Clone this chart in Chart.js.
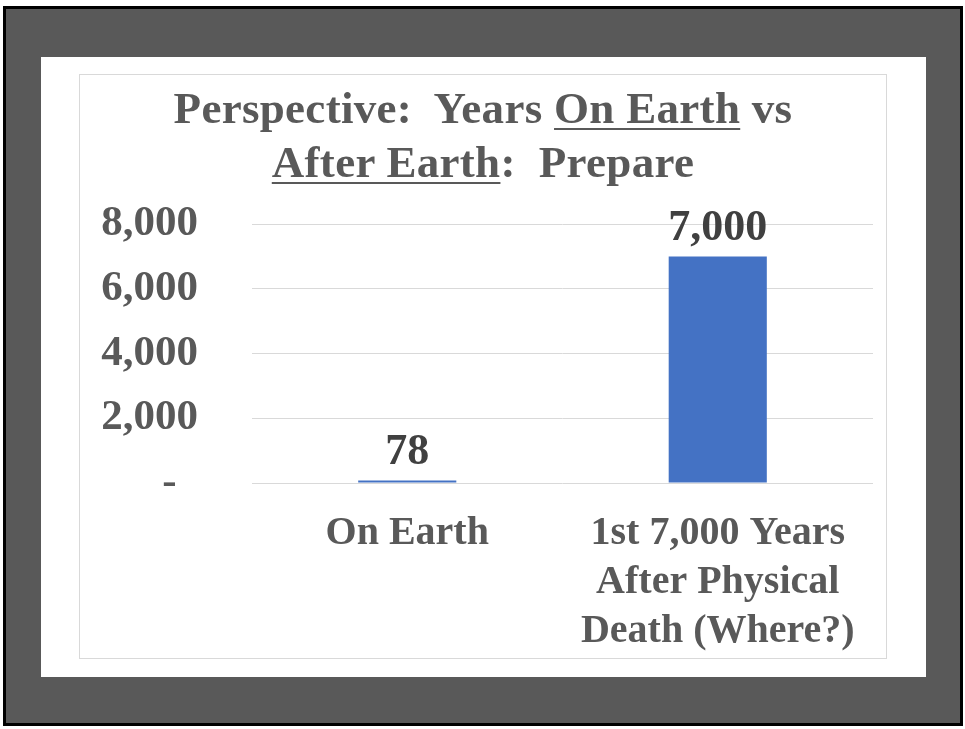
<!DOCTYPE html>
<html>
<head>
<meta charset="utf-8">
<script src="https://cdn.jsdelivr.net/npm/chart.js@4/dist/chart.umd.min.js"></script>
<style>
  body { margin: 0; width: 965px; height: 729px; background: #fff; position: relative; overflow: hidden; }
  #frame { position: absolute; left: 3px; top: 6px; width: 960px; height: 720px; box-sizing: border-box; border: 3px solid #000; background: #595959; }
  #panel { position: absolute; left: 41px; top: 57px; width: 885px; height: 620px; background: #fff; }
  #box { position: absolute; left: 79px; top: 74px; width: 808px; height: 585px; box-sizing: border-box; border: 1px solid #d9d9d9; }
  #title { position: absolute; left: 79px; top: 81px; width: 808px; text-align: center; white-space: pre;
           font: bold 45px/54px "Liberation Serif", serif; letter-spacing: 0.3px; color: #595959; }
  #title u { text-decoration-thickness: 2px; text-underline-offset: 5px; }
  #chart { position: absolute; left: 80px; top: 75px; }
</style>
</head>
<body>
<div id="frame"></div>
<div id="panel"></div>
<div id="box"></div>
<canvas id="chart" width="806" height="583"></canvas>
<div id="title">Perspective:  Years <u>On Earth</u> vs
<u>After Earth</u>:  Prepare</div>
<script>
const categories = [
    ['On Earth'],
    ['1st 7,000 Years', 'After Physical', 'Death (Where?)']
];
const years = [78, 7000];
const yTickValues = [0, 2000, 4000, 6000, 8000];
const yTickLabels = ['-  ', '2,000', '4,000', '6,000', '8,000'];

const serif = '"Liberation Serif", "DejaVu Serif", serif';
const textGray = '#595959';

// value labels above the bars
const barLabels = {
    id: 'barLabels',
    afterDatasetsDraw(chart) {
        const ctx = chart.ctx;
        const meta = chart.getDatasetMeta(0);
        ctx.save();
        ctx.font = `bold 44px ${serif}`;
        ctx.fillStyle = '#404040';
        ctx.textAlign = 'center';
        ctx.textBaseline = 'alphabetic';
        meta.data.forEach((bar, i) => {
            ctx.fillText(years[i].toLocaleString('en-US'), bar.x, bar.y - 16);
        });
        ctx.restore();
    }
};

new Chart(document.getElementById('chart').getContext('2d'), {
    type: 'bar',
    data: {
        labels: categories,
        datasets: [{
            data: years,
            backgroundColor: '#4472C4',
            borderWidth: 0,
            barPercentage: 0.316,
            categoryPercentage: 1.0
        }]
    },
    options: {
        responsive: false,
        animation: false,
        layout: { padding: { top: 149, right: 13, left: 0, bottom: 0 } },
        plugins: {
            legend: { display: false },
            tooltip: { enabled: false },
            title: { display: false }
        },
        scales: {
            x: {
                grid: { display: false },
                border: { display: false },
                ticks: {
                    color: textGray,
                    font: { family: serif, size: 40, weight: 'bold', lineHeight: 1.225 },
                    padding: 18,
                    maxRotation: 0,
                    autoSkip: false
                },
                afterFit: (scale) => { scale.height = 175; }
            },
            y: {
                min: 0,
                max: 8000,
                afterBuildTicks: (scale) => { scale.ticks = yTickValues.map(v => ({ value: v })); },
                ticks: {
                    color: textGray,
                    font: { family: serif, size: 43, weight: 'bold' },
                    padding: 54,
                    callback: (value, index) => yTickLabels[index]
                },
                grid: { color: '#d9d9d9', lineWidth: 1, drawTicks: false },
                border: { display: false },
                afterFit: (scale) => { scale.width = 172; }
            }
        }
    },
    plugins: [barLabels]
});
</script>
</body>
</html>
